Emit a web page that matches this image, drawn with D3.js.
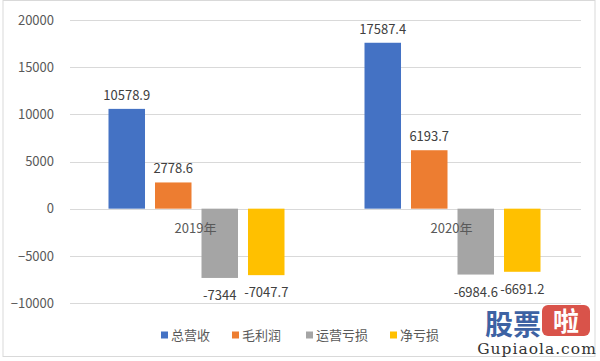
<!DOCTYPE html>
<html><head><meta charset="utf-8">
<script src="https://cdn.jsdelivr.net/npm/d3@7"></script>
<style>
html,body{margin:0;padding:0;background:#fff;}
svg{display:block;}
</style></head>
<body>
<svg id="c" width="600" height="361"></svg>
<script>
const categories = ["2019年", "2020年"];
const seriesNames = ["总营收", "毛利润", "运营亏损", "净亏损"];
const revenue = [10578.9, 17587.4];
const grossProfit = [2778.6, 6193.7];
const operatingLoss = [-7344, -6984.6];
const netLoss = [-7047.7, -6691.2];
const seriesValues = [revenue, grossProfit, operatingLoss, netLoss];
const yTicks = [-10000, -5000, 0, 5000, 10000, 15000, 20000];
const colors = ["#4472C4", "#ED7D31", "#A5A5A5", "#FFC000"];

const svg = d3.select("#c");
const font = "'Microsoft YaHei','Noto Sans CJK SC','DejaVu Sans',sans-serif";

// outer border
svg.append("rect").attr("x", 3).attr("y", 0.5).attr("width", 592).attr("height", 356)
  .attr("fill", "#fff").attr("stroke", "#d9d9d9").attr("stroke-width", 1);

const left = 68.5, right = 580.5;
const y = d3.scaleLinear().domain([-10000, 20000]).range([303, 20]);
const x0 = d3.scaleBand().domain(categories).range([left, right]).paddingInner(0).paddingOuter(0);
const x1 = d3.scaleBand().domain(seriesNames).range([40, x0.bandwidth() - 40]).paddingInner(0.215);

// gridlines
svg.append("g").selectAll("line").data(yTicks).join("line")
  .attr("x1", 70).attr("x2", 581)
  .attr("y1", d => Math.round(y(d)) + 0.5).attr("y2", d => Math.round(y(d)) + 0.5)
  .attr("stroke", "#d9d9d9").attr("stroke-width", 1.2);

// y axis labels
const yAxis = d3.axisLeft(y).tickValues(yTicks).tickSize(0).tickPadding(0).tickFormat(d3.format("d"));
const ya = svg.append("g").attr("transform", `translate(54,0)`).call(yAxis);
ya.select(".domain").remove();
ya.selectAll("text").attr("font-family", font).attr("font-size", 13).attr("fill", "#595959");

// bars
const groups = svg.append("g").selectAll("g").data(categories).join("g")
  .attr("transform", d => `translate(${x0(d)},0)`);

groups.selectAll("rect").data((c, ci) => seriesNames.map((s, si) => ({s, si, v: seriesValues[si][ci]})))
  .join("rect")
  .attr("x", d => x1(d.s))
  .attr("width", x1.bandwidth())
  .attr("y", d => y(Math.max(0, d.v)))
  .attr("height", d => Math.abs(y(d.v) - y(0)))
  .attr("fill", d => colors[d.si]);

// category labels
svg.append("g").selectAll("text").data(categories).join("text")
  .attr("x", d => x0(d) + x0.bandwidth() / 2 - 1)
  .attr("y", y(0) + 24)
  .attr("text-anchor", "middle")
  .attr("font-family", font).attr("font-size", 13).attr("fill", "#595959")
  .text(d => d);

// value labels
groups.selectAll("text.v").data((c, ci) => seriesNames.map((s, si) => ({s, si, v: seriesValues[si][ci]})))
  .join("text").attr("class", "v")
  .attr("x", d => x1(d.s) + x1.bandwidth() / 2)
  .attr("y", d => d.v >= 0 ? y(d.v) - 9 : y(d.v) + 22)
  .attr("text-anchor", "middle")
  .attr("font-family", font).attr("font-size", 13).attr("fill", "#404040")
  .text(d => d.v);

// legend
const legendX = [161, 232, 306, 390];
const lg = svg.append("g").selectAll("g").data(seriesNames).join("g")
  .attr("transform", (d, i) => `translate(${legendX[i]},335)`);
lg.append("rect").attr("x", 0).attr("y", -3.5).attr("width", 7).attr("height", 7).attr("fill", (d, i) => colors[i]);
lg.append("text").attr("x", 10).attr("y", 5).attr("font-family", font).attr("font-size", 13).attr("fill", "#595959").text(d => d);

// watermark
const wm = svg.append("g");
wm.append("text").attr("x", 485).attr("y", 335).attr("font-family", font).attr("font-weight", "bold")
  .attr("font-size", 28).attr("fill", "#3d62a3").text("股票");
wm.append("rect").attr("x", 542).attr("y", 305).attr("width", 48).attr("height", 31).attr("rx", 6).attr("fill", "#d9534a");
wm.append("text").attr("x", 566).attr("y", 331).attr("text-anchor", "middle").attr("font-family", font).attr("font-weight", "bold")
  .attr("font-size", 26).attr("fill", "#fff").text("啦");
wm.append("text").attr("x", 537).attr("y", 354).attr("text-anchor", "middle").attr("font-family", "'DejaVu Serif','Liberation Serif',serif")
  .attr("font-size", 15.5).attr("fill", "#333").attr("letter-spacing", 1).text("Gupiaola.com");
</script>
</body></html>
